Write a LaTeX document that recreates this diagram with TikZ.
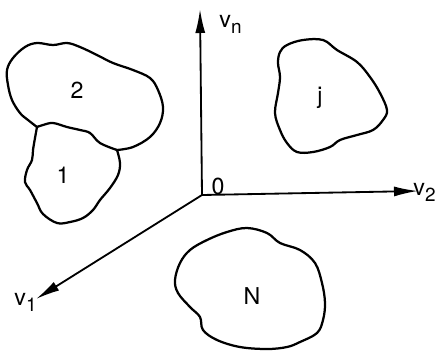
\documentclass[tikz,border=0pt]{standalone}
\usepackage{fontspec}
\setmainfont{TeX Gyre Heros}
\usetikzlibrary{arrows.meta}
\newcommand{\vsub}[1]{v\kern0.2pt\raisebox{-0.55ex}{\fontsize{13.5}{13.5}\selectfont #1}}
\tikzset{
 axis/.style={line width=1.3pt,-{Latex[length=6mm,width=2.5mm]}},
 blob/.style={line width=1.6pt,line join=round,line cap=round},
 lbl/.style={inner sep=0pt,font=\fontsize{16.5}{19}\selectfont}
}

\begin{document}
\begin{tikzpicture}[x=0.25mm,y=-0.25mm]
 \useasboundingbox (0,0) rectangle (436,350);
 \coordinate (O) at (202,195);
 \coordinate (vn) at (200,9);
 \coordinate (v2) at (418,191);
 \coordinate (v1) at (36,299);
 \draw[axis] (O) -- (vn);
 \draw[axis] (O) -- (v2);
 \draw[axis] (O) -- (v1);
 \node[lbl,anchor=base west] (lvn) at (219,27) {\vsub{n}};
 \node[lbl,anchor=base east] (lv2) at (436,195) {\vsub{2}};
 \node[lbl,anchor=base west] (lv1) at (14,305) {\vsub{1}};
 \node[lbl] (lO) at (218,186) {0};
 \draw[blob] plot[smooth,tension=0.6] coordinates {(37,127) (28,120) (20,113) (12,100) (8,85) (7,70) (13,58) (25,47) (37,43) (53,45) (67,43) (80,47) (97,55) (113,63) (133,70) (150,78) (158,90) (163,107) (160,123) (150,137) (133,147) (117,150)};
 \draw[blob] plot[smooth,tension=0.6] coordinates {(117,150) (100,143) (90,133) (80,130) (67,127) (53,123) (43,125) (37,127)};
 \draw[blob] plot[smooth,tension=0.6] coordinates {(37,127) (35,138) (33,150) (32,160) (27,170) (25,182) (30,190) (37,203) (43,214) (57,223) (70,222) (83,218) (93,210) (100,200) (110,188) (118,175) (120,163) (117,150)};
 \draw[blob] plot[smooth cycle,tension=0.6] coordinates {(287,45) (303,40) (323,40) (337,50) (357,62) (370,77) (380,93) (387,110) (383,120) (373,130) (357,135) (340,140) (330,147) (313,152) (297,152) (287,143) (280,130) (275,113) (278,93) (280,77) (278,63) (280,52)};
 \draw[blob] plot[smooth cycle,tension=0.6] coordinates {(247,228) (267,233) (280,243) (300,250) (315,263) (322,283) (325,303) (323,320) (317,333) (300,342) (287,347) (267,349) (240,347) (217,340) (203,330) (200,317) (190,307) (178,293) (175,280) (180,263) (190,250) (207,240) (227,232)};
 \node[lbl] (l2) at (77,90) {2};
 \node[lbl] (l1) at (63,175) {1};
 \node[lbl,anchor=base] (lj) at (320,103) {j};
 \node[lbl] (lN) at (252,296) {N};
\end{tikzpicture}
\end{document}
